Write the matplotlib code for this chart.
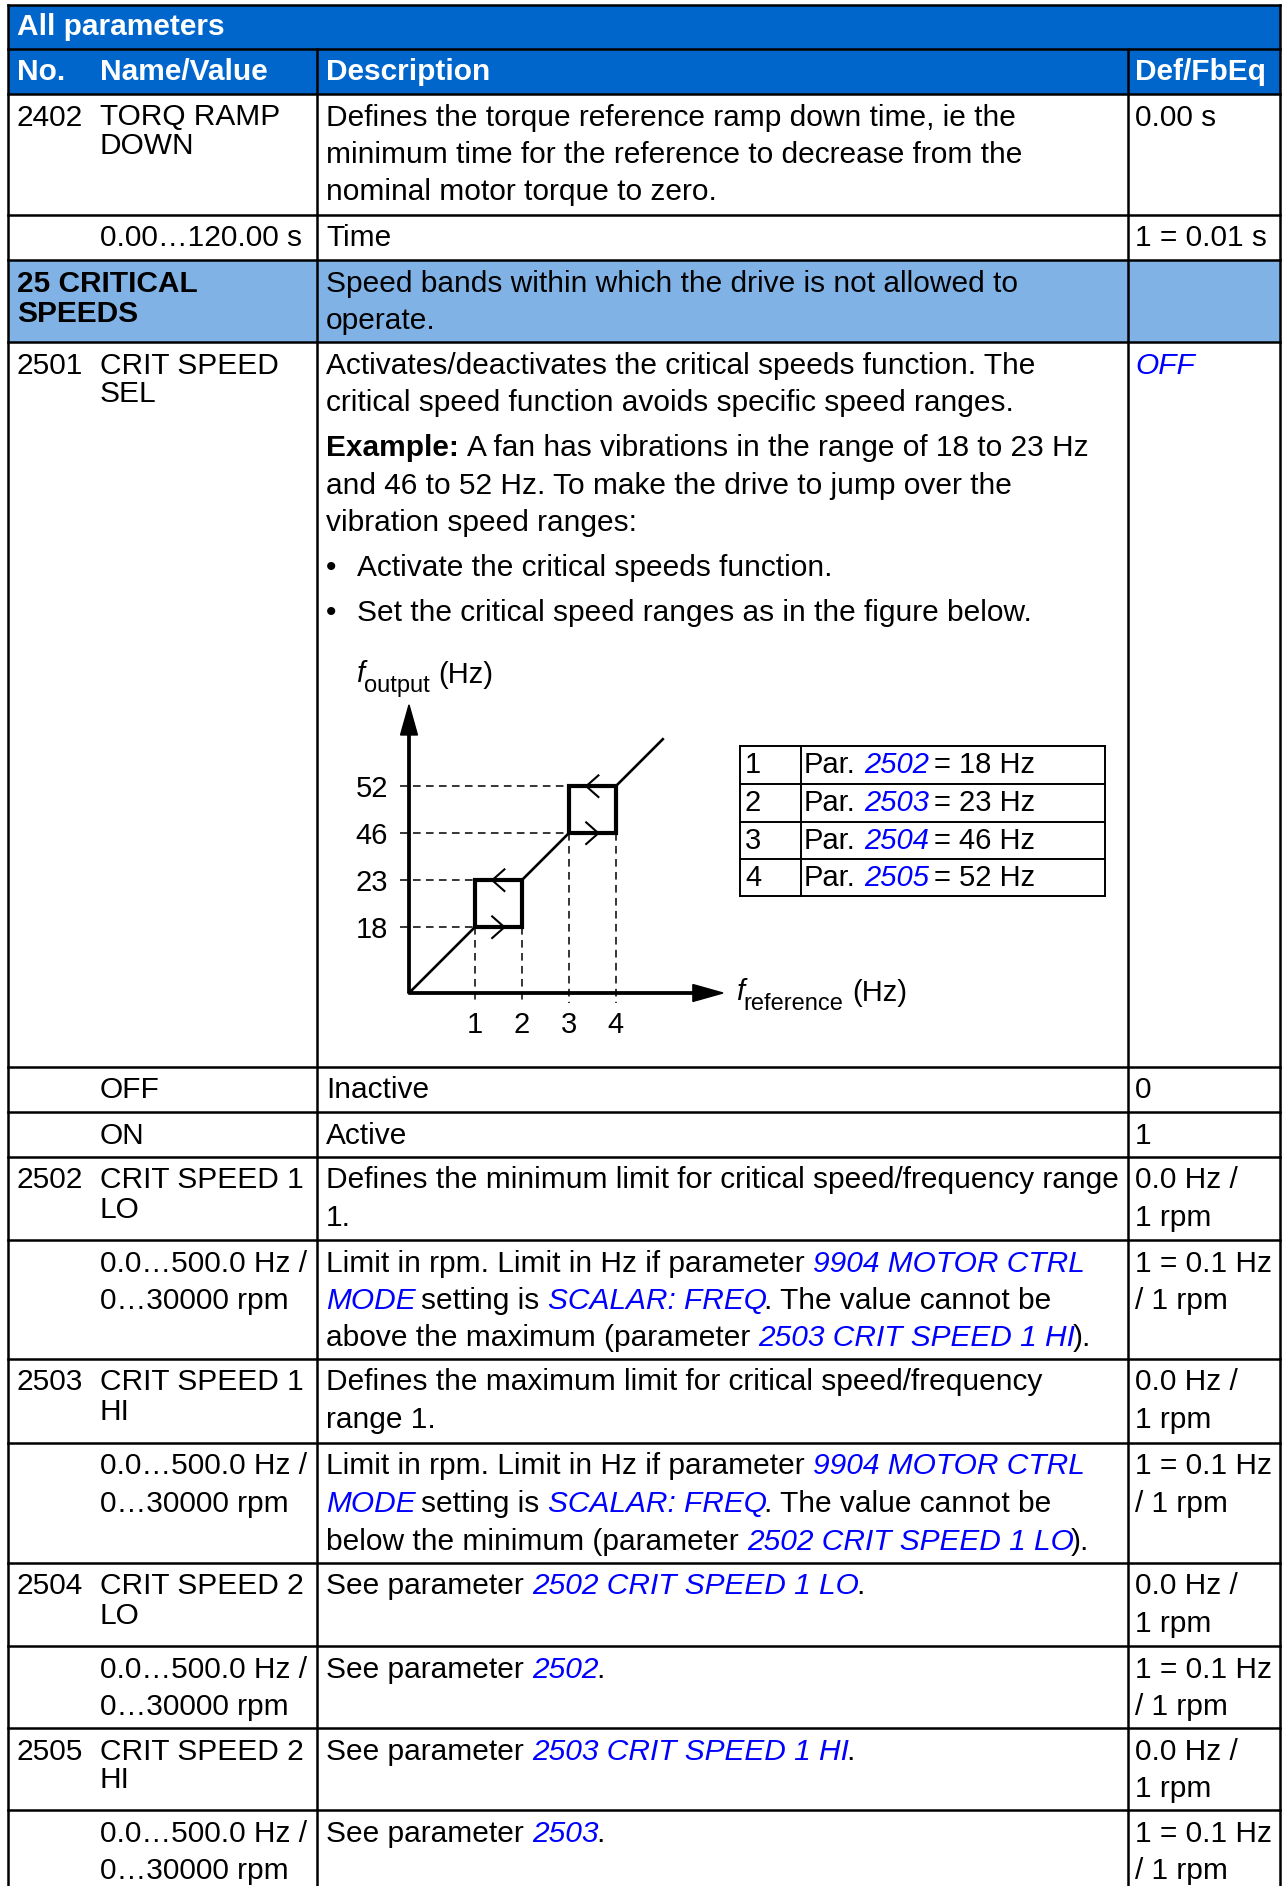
import matplotlib
matplotlib.use('Agg')
import matplotlib.pyplot as plt
from matplotlib.patches import Rectangle

plt.rcParams['font.family'] = ['Liberation Sans', 'DejaVu Sans']

W, H = 1288, 1886
FS = 21.5        # body text (30 px)
FS_FIG = 21      # text in the example figure
FS_SUB = 17
HEAD_BLUE = '#0066cc'
SECT_BLUE = '#80b2e6'
LINK = '#0000ff'

# ---------------- table content ----------------
par_no = ['2402', '', '', '2501', '', '', '2502', '', '2503', '', '2504', '', '2505', '']
par_name = [
    ['TORQ RAMP', 'DOWN'],
    ['0.00…120.00 s'],
    ['25 CRITICAL', 'SPEEDS'],
    ['CRIT SPEED', 'SEL'],
    ['OFF'],
    ['ON'],
    ['CRIT SPEED 1', 'LO'],
    ['0.0…500.0 Hz /', '0…30000 rpm'],
    ['CRIT SPEED 1', 'HI'],
    ['0.0…500.0 Hz /', '0…30000 rpm'],
    ['CRIT SPEED 2', 'LO'],
    ['0.0…500.0 Hz /', '0…30000 rpm'],
    ['CRIT SPEED 2', 'HI'],
    ['0.0…500.0 Hz /', '0…30000 rpm'],
]
par_desc = [
    [[('Defines the torque reference ramp down time, ie the', 'n')],
     [('minimum time for the reference to decrease from the', 'n')],
     [('nominal motor torque to zero.', 'n')]],
    [[('Time', 'n')]],
    [[('Speed bands within which the drive is not allowed to', 'n')],
     [('operate.', 'n')]],
    [[('Activates/deactivates the critical speeds function. The', 'n')],
     [('critical speed function avoids specific speed ranges.', 'n')],
     None,
     [('Example:', 'b'), (' A fan has vibrations in the range of 18 to 23 Hz', 'n')],
     [('and 46 to 52 Hz. To make the drive to jump over the', 'n')],
     [('vibration speed ranges:', 'n')],
     None,
     [('•', 'bul'), ('Activate the critical speeds function.', 'n')],
     None,
     [('•', 'bul'), ('Set the critical speed ranges as in the figure below.', 'n')]],
    [[('Inactive', 'n')]],
    [[('Active', 'n')]],
    [[('Defines the minimum limit for critical speed/frequency range', 'n')],
     [('1.', 'n')]],
    [[('Limit in rpm. Limit in Hz if parameter ', 'n'), ('9904 MOTOR CTRL', 'l')],
     [('MODE', 'l'), (' setting is ', 'n'), ('SCALAR: FREQ', 'l'), ('. The value cannot be', 'n')],
     [('above the maximum (parameter ', 'n'), ('2503 CRIT SPEED 1 HI', 'l'), (').', 'n')]],
    [[('Defines the maximum limit for critical speed/frequency', 'n')],
     [('range 1.', 'n')]],
    [[('Limit in rpm. Limit in Hz if parameter ', 'n'), ('9904 MOTOR CTRL', 'l')],
     [('MODE', 'l'), (' setting is ', 'n'), ('SCALAR: FREQ', 'l'), ('. The value cannot be', 'n')],
     [('below the minimum (parameter ', 'n'), ('2502 CRIT SPEED 1 LO', 'l'), (').', 'n')]],
    [[('See parameter ', 'n'), ('2502 CRIT SPEED 1 LO', 'l'), ('.', 'n')]],
    [[('See parameter ', 'n'), ('2502', 'l'), ('.', 'n')]],
    [[('See parameter ', 'n'), ('2503 CRIT SPEED 1 HI', 'l'), ('.', 'n')]],
    [[('See parameter ', 'n'), ('2503', 'l'), ('.', 'n')]],
]
par_def = [
    ['0.00 s'], ['1 = 0.01 s'], [], [[('OFF', 'l')]], ['0'], ['1'],
    ['0.0 Hz /', '1 rpm'], ['1 = 0.1 Hz', '/ 1 rpm'],
    ['0.0 Hz /', '1 rpm'], ['1 = 0.1 Hz', '/ 1 rpm'],
    ['0.0 Hz /', '1 rpm'], ['1 = 0.1 Hz', '/ 1 rpm'],
    ['0.0 Hz /', '1 rpm'], ['1 = 0.1 Hz', '/ 1 rpm'],
]
section_rows = [2]

# example figure content
crit_hz = [18, 23, 46, 52]
crit_mark = ['1', '2', '3', '4']
crit_par = ['2502', '2503', '2504', '2505']

# ---------------- layout ----------------
X_L, X_R = 8, 1280
X_C1, X_C2 = 317, 1128
X_NO, X_NAME, X_DESC, X_DEF = 17, 100, 326, 1135
Y_TOP, Y_HEAD, Y_BODY = 5, 49, 94
row_bottom = [215, 260, 342, 1067, 1112, 1157, 1240, 1359, 1443, 1563, 1646, 1728, 1810, 1900]
LH, PG, BASE = 37.5, 7.5, 31.5

fig = plt.figure(figsize=(W / 100, H / 100), dpi=100)
ax = fig.add_axes([0, 0, 1, 1])
ax.set_xlim(0, W)
ax.set_ylim(H, 0)
ax.axis('off')
rend = fig.canvas.get_renderer()

STY = {
    'n': dict(color='black'),
    'i': dict(color='black', fontstyle='italic'),
    'b': dict(color='black', fontweight='bold'),
    'l': dict(color=LINK, fontstyle='italic'),
    'w': dict(color='white', fontweight='bold'),
}


def text_w(s, size, kw):
    t = ax.text(0, 0, s, fontsize=size, **kw)
    w = t.get_window_extent(renderer=rend).width
    t.remove()
    return w


def space_w(size, kw):
    return text_w('n n', size, kw) - text_w('nn', size, kw)


def put_runs(x, y, runs, size=FS):
    x0 = x
    for txt, st in runs:
        if st == 'bul':
            ax.text(x0, y, txt, fontsize=size, va='baseline', **STY['n'])
            x = x0 + 31
            continue
        kw = STY[st]
        sw = space_w(size, kw)
        x += (len(txt) - len(txt.lstrip(' '))) * sw
        core = txt.strip(' ')
        if core:
            t = ax.text(x, y, core, fontsize=size, va='baseline', **kw)
            x += t.get_window_extent(renderer=rend).width
            if 'fontstyle' in kw:
                x -= 2.5
        x += (len(txt) - len(txt.rstrip(' '))) * sw
    return x


def as_runs(line):
    return [(line, 'n')] if isinstance(line, str) else line


# header bars
ax.add_patch(Rectangle((X_L, Y_TOP), X_R - X_L, Y_BODY - Y_TOP, color=HEAD_BLUE, lw=0))
put_runs(X_NO, 35, [('All parameters', 'w')])
for xx, lab in zip([X_NO, X_NAME, X_DESC, X_DEF], ['No.', 'Name/Value', 'Description', 'Def/FbEq']):
    put_runs(xx, 80, [(lab, 'w')])

# rows
tops = [Y_BODY] + row_bottom[:-1]
for i, (top, bot) in enumerate(zip(tops, row_bottom)):
    y0 = top + BASE
    if i in section_rows:
        ax.add_patch(Rectangle((X_L, top), X_R - X_L, bot - top, color=SECT_BLUE, lw=0))
        for k, ln in enumerate(par_name[i]):
            put_runs(X_NO, y0 + 31 * k, [(ln, 'b')])
    else:
        if par_no[i]:
            put_runs(X_NO, y0, [(par_no[i], 'n')])
        gap = 29 if par_no[i] else LH
        for k, ln in enumerate(par_name[i]):
            put_runs(X_NAME, y0 + gap * k, [(ln, 'n')])
    y = y0
    for ln in par_desc[i]:
        if ln is None:
            y += PG
            continue
        put_runs(X_DESC, y, ln)
        y += LH
    for k, ln in enumerate(par_def[i]):
        put_runs(X_DEF, y0 + LH * k, as_runs(ln))

# grid lines
LW = 1.8
for yy in [Y_TOP, Y_HEAD, Y_BODY] + row_bottom[:-1]:
    ax.plot([X_L, X_R], [yy, yy], color='black', lw=LW, solid_capstyle='projecting')
ax.plot([X_L, X_L], [Y_TOP, H], color='black', lw=LW)
ax.plot([X_R, X_R], [Y_TOP, H], color='black', lw=LW)
for xx in [X_C1, X_C2]:
    ax.plot([xx, xx], [Y_HEAD, H], color='black', lw=LW)

# ---------------- example figure ----------------
U = 47.0
OX, OY = 409, 993
axd = fig.add_axes([OX / W, (H - OY) / H, 7 * U / W, 6.5 * U / H])
axd.set_xlim(0, 7)
axd.set_ylim(0, 6.5)
axd.axis('off')
pos = [k + 1.4 for k in range(len(crit_hz))]

axd.arrow(0, 0, 6.68, 0, width=0.05, head_width=0.36, head_length=0.64,
          length_includes_head=True, color='black', clip_on=False)
axd.arrow(0, 0, 0, 6.13, width=0.05, head_width=0.36, head_length=0.64,
          length_includes_head=True, color='black', clip_on=False)

for k, p in enumerate(pos):
    lo = pos[2 * (k // 2)]
    axd.plot([-0.2, lo], [p, p], color='black', lw=1.1, dashes=(5, 3.5), clip_on=False)
    axd.plot([p, p], [lo, -0.22], color='black', lw=1.1, dashes=(5, 3.5), clip_on=False)
    axd.text(-0.45, p - 0.22, str(crit_hz[k]), ha='right', va='baseline', fontsize=FS_FIG)
    axd.text(p, -0.86, crit_mark[k], ha='center', va='baseline', fontsize=FS_FIG)

# diagonal with jumps
axd.plot([0, pos[0]], [0, pos[0]], color='black', lw=1.9, clip_on=False)
axd.plot([pos[1], pos[2]], [pos[1], pos[2]], color='black', lw=1.9, clip_on=False)
axd.plot([pos[3], pos[3] + 1], [pos[3], pos[3] + 1], color='black', lw=1.9, clip_on=False)

for a, b in [(pos[0], pos[1]), (pos[2], pos[3])]:
    axd.add_patch(Rectangle((a, a), b - a, b - a, fill=False, ec='black', lw=3.0,
                            joinstyle='miter', clip_on=False))
    c = (a + b) / 2
    axd.plot([c - 0.13, c + 0.13, c - 0.13], [a - 0.23, a, a + 0.23], color='black', lw=1.5, clip_on=False)
    axd.plot([c + 0.13, c - 0.13, c + 0.13], [b - 0.23, b, b + 0.23], color='black', lw=1.5, clip_on=False)

# axis titles: italic f, subscript, unit
xe = put_runs(356, 682, [('f', 'i')], size=FS_FIG)
xe = put_runs(xe + 2, 692, [('output', 'n')], size=FS_SUB)
put_runs(xe + 9, 683, [('(Hz)', 'n')], size=FS_FIG)

xe = put_runs(736, 1000, [('f', 'i')], size=FS_FIG)
xe = put_runs(xe + 2, 1010, [('reference', 'n')], size=FS_SUB)
put_runs(xe + 9, 1001, [('(Hz)', 'n')], size=FS_FIG)

# parameter table of the figure
TX0, TX1, TXC = 740, 1105, 801
t_rows = [746, 784, 822, 859, 896]
for yy in t_rows:
    ax.plot([TX0, TX1], [yy, yy], color='black', lw=1.4, solid_capstyle='projecting')
for xx in [TX0, TXC, TX1]:
    ax.plot([xx, xx], [t_rows[0], t_rows[-1]], color='black', lw=1.4)
for k in range(len(crit_hz)):
    yb = t_rows[k] + 27
    put_runs(TX0 + 5, yb, [(crit_mark[k], 'n')], size=FS_FIG)
    put_runs(TXC + 3, yb, [('Par. ', 'n'), (crit_par[k], 'l'), (' = %d Hz' % crit_hz[k], 'n')], size=FS_FIG)

fig.savefig('out.png', dpi=100)
